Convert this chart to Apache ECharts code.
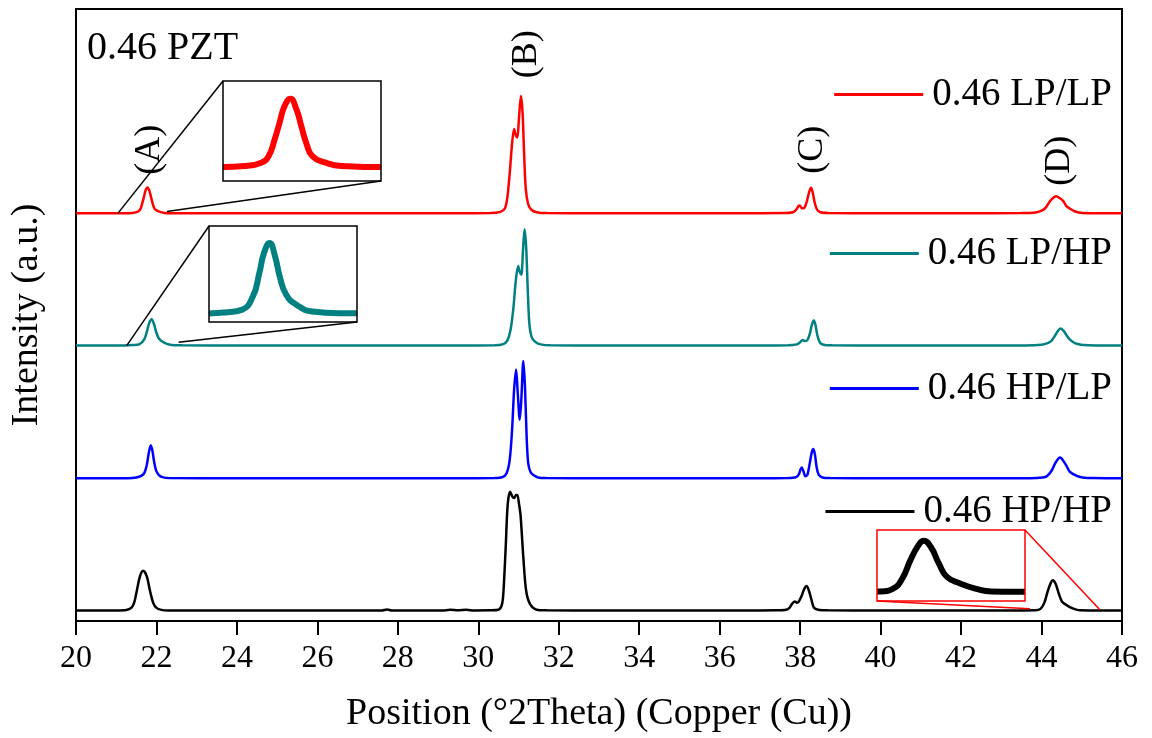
<!DOCTYPE html>
<html>
<head>
<meta charset="utf-8">
<title>0.46 PZT XRD</title>
<script src="https://cdn.jsdelivr.net/npm/echarts@6/dist/echarts.min.js"></script>
<style>
  html, body { margin: 0; padding: 0; background: #fff; }
  #chart { width: 1152px; height: 738px; }
</style>
</head>
<body>
<div id="chart"></div>
<script>
// ---- data: diffraction patterns, [2θ (°), intensity (a.u.)] measured from each sample's own baseline ----
const sampleNames = ['0.46 LP/LP', '0.46 LP/HP', '0.46 HP/LP', '0.46 HP/HP'];
const stackOffsets = [66.6, 45.0, 23.3, 1.7];   // vertical stacking of the patterns (a.u.)
const xRange = [20, 46];
const xStep = 2;

const lpLp = [
  [20.0, 0.02], [20.6, 0.03], [21.2, 0.02], [21.4, 0.08], [21.54, 0.29], [21.6, 0.69], [21.65, 1.72],
  [21.69, 2.74], [21.73, 3.76], [21.78, 4.23], [21.83, 3.56], [21.87, 2.53], [21.91, 1.51], [21.96, 0.69],
  [22.07, 0.29], [22.2, 0.08], [22.4, 0.03], [24.0, 0.02], [26.0, 0.03], [28.0, 0.02],
  [29.5, 0.03], [30.3, 0.05], [30.55, 0.25], [30.66, 0.8], [30.72, 2.5], [30.78, 6.5], [30.84, 11.5],
  [30.89, 13.8], [30.93, 12.8], [30.97, 12.4], [31.01, 15.5], [31.06, 19.2], [31.1, 16.5], [31.14, 9.5],
  [31.18, 4.0], [31.24, 1.5], [31.32, 0.6], [31.45, 0.2], [31.7, 0.05], [33.0, 0.02], [35.0, 0.03],
  [37.0, 0.03], [37.6, 0.05], [37.82, 0.2], [37.9, 0.6], [37.96, 1.2], [37.99, 1.3], [38.04, 0.85],
  [38.1, 0.9], [38.16, 1.8], [38.22, 3.4], [38.27, 4.2], [38.31, 3.5], [38.36, 1.8], [38.42, 0.6],
  [38.5, 0.2], [38.7, 0.05], [40.0, 0.02], [42.0, 0.02], [43.5, 0.05], [43.85, 0.15], [44.0, 0.45],
  [44.1, 0.9], [44.21, 2.0], [44.3, 2.6], [44.37, 2.8], [44.45, 2.5], [44.54, 2.0], [44.62, 1.2],
  [44.71, 0.75], [44.82, 0.35], [44.96, 0.1], [45.3, 0.03], [46.0, 0.02]
];

const lpHp = [
  [20.0, 0.02], [20.6, 0.03], [21.2, 0.02], [21.4, 0.08], [21.58, 0.24], [21.7, 1.05], [21.77, 2.48],
  [21.82, 3.7], [21.88, 4.31], [21.94, 3.49], [21.99, 2.27], [22.06, 1.16], [22.17, 0.55], [22.34, 0.14],
  [22.65, 0.04], [24.0, 0.02], [26.0, 0.03], [28.0, 0.02],
  [29.5, 0.03], [30.4, 0.05], [30.62, 0.25], [30.72, 0.8], [30.8, 2.5], [30.87, 6.0], [30.93, 10.5],
  [30.99, 13.0], [31.03, 12.0], [31.07, 11.6], [31.11, 15.5], [31.15, 19.0], [31.19, 16.0], [31.23, 9.0],
  [31.27, 3.5], [31.33, 1.3], [31.42, 0.6], [31.55, 0.2], [31.8, 0.05], [33.0, 0.02], [35.0, 0.03],
  [37.0, 0.03], [37.7, 0.05], [37.92, 0.2], [38.0, 0.55], [38.06, 0.9], [38.12, 0.75], [38.18, 0.9],
  [38.24, 1.9], [38.29, 3.4], [38.34, 4.1], [38.38, 3.4], [38.43, 1.6], [38.49, 0.5], [38.58, 0.15],
  [38.8, 0.05], [40.0, 0.02], [42.0, 0.02], [43.6, 0.03], [44.0, 0.15], [44.15, 0.4], [44.25, 0.8],
  [44.34, 1.7], [44.42, 2.5], [44.48, 2.8], [44.55, 2.4], [44.62, 1.7], [44.7, 1.0], [44.79, 0.55],
  [44.9, 0.25], [45.05, 0.08], [45.4, 0.03], [46.0, 0.02]
];

const hpLp = [
  [20.0, 0.02], [20.6, 0.03], [21.3, 0.03], [21.5, 0.15], [21.62, 0.4], [21.7, 0.9], [21.76, 2.2],
  [21.81, 4.2], [21.86, 5.4], [21.9, 4.5], [21.94, 2.8], [21.99, 1.3], [22.06, 0.55], [22.15, 0.2],
  [22.3, 0.05], [24.0, 0.02], [26.0, 0.03], [28.0, 0.02], [29.5, 0.03], [30.4, 0.05], [30.6, 0.2],
  [30.7, 0.8], [30.78, 3.0], [30.84, 8.0], [30.89, 14.5], [30.94, 17.8], [30.98, 14.0], [31.03, 9.6],
  [31.07, 13.0], [31.12, 19.2], [31.16, 15.0], [31.2, 7.0], [31.24, 2.5], [31.3, 1.0], [31.38, 0.5],
  [31.48, 0.15], [31.7, 0.05], [33.0, 0.02], [35.0, 0.03], [37.0, 0.03], [37.7, 0.05], [37.9, 0.2],
  [37.97, 0.7], [38.01, 1.5], [38.04, 1.8], [38.08, 1.2], [38.13, 0.35], [38.18, 0.6], [38.24, 2.5],
  [38.29, 4.3], [38.33, 4.8], [38.37, 3.8], [38.41, 1.8], [38.46, 0.6], [38.55, 0.15], [38.75, 0.05],
  [40.0, 0.02], [42.0, 0.02], [43.6, 0.03], [43.95, 0.1], [44.12, 0.3], [44.25, 1.25], [44.35, 2.6],
  [44.46, 3.4], [44.54, 2.9], [44.62, 2.05], [44.7, 1.1], [44.79, 0.7], [44.9, 0.35], [45.02, 0.15],
  [45.3, 0.05], [46.0, 0.02]
];

const hpHp = [
  [20.0, 0.02], [20.6, 0.03], [21.0, 0.03], [21.25, 0.1], [21.38, 0.5], [21.45, 1.4], [21.51, 3.2],
  [21.59, 5.6], [21.67, 6.5], [21.76, 5.6], [21.84, 3.2], [21.92, 1.25], [22.0, 0.45], [22.12, 0.12],
  [22.3, 0.03], [24.0, 0.02], [26.0, 0.03], [27.6, 0.02], [27.73, 0.18], [27.85, 0.02], [29.1, 0.03],
  [29.3, 0.12], [29.5, 0.05], [29.7, 0.12], [29.9, 0.03], [30.3, 0.05], [30.5, 0.15], [30.58, 0.8],
  [30.62, 2.6], [30.68, 10.2], [30.73, 17.3], [30.79, 19.4], [30.85, 18.6], [30.89, 18.4], [30.94, 18.9],
  [30.97, 18.9], [31.01, 17.5], [31.05, 15.6], [31.12, 8.6], [31.19, 3.2], [31.29, 1.0], [31.45, 0.15],
  [31.7, 0.05], [33.0, 0.02], [35.0, 0.03], [37.0, 0.03], [37.4, 0.05], [37.65, 0.15], [37.74, 0.5],
  [37.81, 1.2], [37.87, 1.5], [37.92, 1.3], [37.96, 1.4], [38.03, 2.3], [38.1, 3.5], [38.16, 4.0],
  [38.22, 3.2], [38.28, 1.8], [38.34, 0.5], [38.45, 0.15], [38.7, 0.05], [40.0, 0.02], [42.0, 0.02],
  [43.5, 0.03], [43.85, 0.05], [43.98, 0.33], [44.07, 1.3], [44.15, 3.08], [44.23, 4.53], [44.28, 4.95],
  [44.35, 4.37], [44.43, 2.76], [44.51, 1.46], [44.64, 0.82], [44.79, 0.33], [44.95, 0.05], [45.2, 0.03],
  [46.0, 0.02]
];

const patterns = [lpLp, lpHp, hpLp, hpHp];
const peakLabels = ['(A)', '(B)', '(C)', '(D)'];

// ---- presentation ----
const FONT = '"Liberation Serif", "Times New Roman", Times, serif';
const colors = ['#ff0000', '#008080', '#0000ff', '#000000'];

// label anchors in data coordinates (2θ, a.u.)
const peakLabelAt = [[21.84, 77.0], [31.21, 92.6], [38.30, 77.0], [44.46, 75.2]];

// magnified views: frame box, visible window, pattern index, frame colour, anchors on the main pattern
const zooms = [
  { box: { left: 223, top: 81, width: 158, height: 100 }, x: [21.25, 22.5], y: [-0.84, 5.33],
    idx: 0, frame: '#000', from: [[21.04, 0.0], [22.26, 0.3]], corners: ['tl', 'br'] },
  { box: { left: 209, top: 226, width: 148, height: 96 }, x: [21.26, 22.79], y: [-0.5, 5.35],
    idx: 1, frame: '#000', from: [[21.26, 0.0], [22.55, 0.55]], corners: ['tl', 'br'] },
  { box: { left: 877, top: 530, width: 148, height: 71 }, x: [43.85, 45.25], y: [-0.87, 5.99],
    idx: 3, frame: '#ff0000', from: [[43.71, 0.3], [45.45, 0.15]], corners: ['bl', 'tr'] }
];
const zoomLineWidth = 6;

const chart = echarts.init(document.getElementById('chart'), null, { renderer: 'canvas' });

const grids = [{ left: 76, top: 9, right: 30, bottom: 115, show: true,
  borderColor: '#000', borderWidth: 2, backgroundColor: 'transparent' }];
const xAxes = [{
  type: 'value', min: xRange[0], max: xRange[1], interval: xStep, gridIndex: 0,
  name: 'Position (°2Theta) (Copper (Cu))', nameLocation: 'middle', nameGap: 74,
  nameTextStyle: { fontFamily: FONT, fontSize: 38, color: '#000' },
  axisLine: { show: true, lineStyle: { color: '#000', width: 2 } },
  axisTick: { show: true, inside: false, length: 14, lineStyle: { color: '#000', width: 2 } },
  axisLabel: { fontFamily: FONT, fontSize: 32, color: '#000', margin: 22 },
  splitLine: { show: false }
}];
const yAxes = [{
  type: 'value', min: 0, max: 100, gridIndex: 0,
  name: 'Intensity (a.u.)', nameLocation: 'middle', nameGap: 30, nameRotate: 90,
  nameTextStyle: { fontFamily: FONT, fontSize: 38, color: '#000' },
  axisLine: { show: true, lineStyle: { color: '#000', width: 2 } },
  axisTick: { show: false }, axisLabel: { show: false }, splitLine: { show: false }
}];

const series = patterns.map((pts, i) => ({
  name: sampleNames[i], type: 'line', xAxisIndex: 0, yAxisIndex: 0,
  data: pts.map(([x, y]) => [x, y + stackOffsets[i]]),
  showSymbol: false, smooth: 0.3,
  lineStyle: { color: colors[i], width: 2.5 }, itemStyle: { color: colors[i] },
  z: 3, silent: true
}));

// the line clip region grows by half the line width, so the plotting area
// of each magnified view sits that much inside its frame
zooms.forEach((zm, k) => {
  const b = zm.box, pad = zoomLineWidth / 2;
  grids.push({ show: false, left: b.left + pad, top: b.top, width: b.width - 2 * pad, height: b.height });
  xAxes.push({ type: 'value', gridIndex: k + 1, min: zm.x[0], max: zm.x[1], show: false });
  yAxes.push({ type: 'value', gridIndex: k + 1, min: zm.y[0], max: zm.y[1], show: false });
  series.push({
    name: sampleNames[zm.idx] + ' (zoom)', type: 'line', xAxisIndex: k + 1, yAxisIndex: k + 1,
    data: patterns[zm.idx], showSymbol: false, smooth: 0.5, clip: true,
    lineStyle: { color: colors[zm.idx], width: zoomLineWidth, cap: 'butt', join: 'round' },
    z: 6, silent: true
  });
});

const legendTops = [75, 234, 369, 492];
const legends = sampleNames.map((nm, i) => ({
  data: [nm], right: 40, top: legendTops[i], orient: 'horizontal',
  icon: 'rect', itemWidth: 89, itemHeight: 3, itemGap: 0, padding: 0,
  selectedMode: false,
  textStyle: { fontFamily: FONT, fontSize: 39, color: '#000', padding: [0, 0, 0, 4] }
}));

chart.setOption({
  backgroundColor: '#fff',
  animation: false,
  title: { text: '0.46 PZT', left: 87, top: 28, padding: 0,
    textStyle: { fontFamily: FONT, fontSize: 40, fontWeight: 'normal', color: '#000' } },
  legend: legends,
  grid: grids,
  xAxis: xAxes,
  yAxis: yAxes,
  series: series
});

// annotations: peak labels, frames and leader lines of the magnified views
const px = (x, y) => chart.convertToPixel({ gridIndex: 0 }, [x, y]);
const graphics = [];
peakLabels.forEach((t, i) => {
  const p = px(peakLabelAt[i][0], peakLabelAt[i][1]);
  graphics.push({
    type: 'text', x: p[0], y: p[1], rotation: Math.PI / 2, z: 10,
    style: { text: t, fontFamily: FONT, fontSize: 36, fill: '#000',
      textAlign: 'center', textVerticalAlign: 'middle' }
  });
});
zooms.forEach(zm => {
  const b = zm.box;
  graphics.push({
    type: 'rect', z: 7, silent: true,
    shape: { x: b.left, y: b.top, width: b.width, height: b.height },
    style: { fill: 'none', stroke: zm.frame, lineWidth: 1.5 }
  });
  const corner = c => ({
    tl: [b.left, b.top], tr: [b.left + b.width, b.top],
    bl: [b.left, b.top + b.height], br: [b.left + b.width, b.top + b.height]
  })[c];
  zm.from.forEach((d, j) => {
    const p = px(d[0], d[1] + stackOffsets[zm.idx]);
    const c = corner(zm.corners[j]);
    graphics.push({
      type: 'line', z: 4, silent: true,
      shape: { x1: p[0], y1: p[1], x2: c[0], y2: c[1] },
      style: { stroke: zm.frame, lineWidth: 1.5 }
    });
  });
});
chart.setOption({ graphic: graphics });
</script>
</body>
</html>
